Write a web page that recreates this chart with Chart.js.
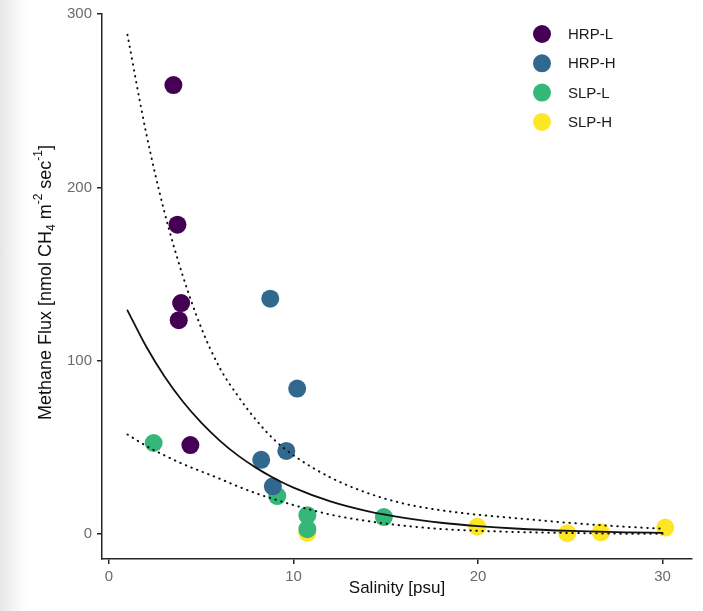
<!DOCTYPE html>
<html>
<head>
<meta charset="utf-8">
<script src="https://cdn.jsdelivr.net/npm/chart.js@4.4.1/dist/chart.umd.min.js"></script>
<style>
  html, body { margin: 0; padding: 0; }
  body { background: linear-gradient(to right, #e6e6e6 0px, #f5f5f5 14px, #ffffff 28px); }
  #wrap { width: 703px; height: 611px; }
</style>
</head>
<body>
<div id="wrap"><canvas id="plot" width="703" height="611"></canvas></div>
<script>
const groups = ["HRP-L", "HRP-H", "SLP-L", "SLP-H"];
const groupColors = ["#440154", "#31688E", "#35B779", "#FDE725"];

// points (salinity psu, flux nmol CH4 m-2 s-1)
const hrpLSalinity = [3.49, 3.71, 3.91, 3.78, 4.41];
const hrpLFlux = [259, 178.5, 133.3, 123.4, 51.4];
const hrpHSalinity = [8.74, 10.2, 9.61, 8.25, 8.88];
const hrpHFlux = [135.8, 84, 48, 42.9, 27.6];
const slpLSalinity = [2.42, 9.12, 10.75, 10.75, 14.9];
const slpLFlux = [52.6, 22, 11, 2.9, 9.9];
const slpHSalinity = [10.75, 19.96, 24.84, 26.66, 30.15];
const slpHFlux = [0.7, 4.3, 0.6, 1.1, 3.8];

// fitted curve + dotted band
const fitSalinity = [1, 2, 3, 4, 5, 6, 7, 8, 9, 10, 12, 14, 16, 18, 20, 22, 25, 28, 30];
const fitFlux = [129.1, 108.5, 91.1, 76.5, 64.3, 54.0, 45.3, 38.1, 32.0, 26.9, 18.9, 13.3, 9.4, 6.6, 4.7, 3.3, 1.9, 1.1, 0.8];
const upperFlux = [288, 232, 186, 149, 119, 96, 79.5, 65.5, 54, 45.5, 32.7, 23.8, 17.6, 13.8, 11.2, 9.3, 6.5, 4.3, 3.2];
const lowerFlux = [57.5, 51, 45.5, 40.5, 36.2, 32, 27.5, 23.5, 20, 16.8, 11.3, 7.6, 4.9, 3.0, 2.0, 1.3, 0.7, 0.3, 0.2];

const xTicks = [0, 10, 20, 30];
const yTicks = [0, 100, 200, 300];

const fontFamily = "'Liberation Sans', Arial, sans-serif";

const toPoints = (xs, ys) => xs.map((x, i) => ({ x: x, y: ys[i] }));

const pointSet = (label, xs, ys, color, order) => ({
  label: label,
  data: toPoints(xs, ys),
  backgroundColor: color,
  borderColor: color,
  borderWidth: 0,
  pointRadius: 9,
  pointHoverRadius: 9,
  showLine: false,
  order: order,
});

const lineSet = (label, ys, dash) => ({
  label: label,
  data: toPoints(fitSalinity, ys),
  borderColor: "#111111",
  backgroundColor: "#111111",
  borderWidth: dash ? 2 : 1.8,
  borderDash: dash || [],
  borderCapStyle: "round",
  pointRadius: 0,
  showLine: true,
  cubicInterpolationMode: "monotone",
  order: 0,
});

// legend inside the panel, top right
const insideLegend = {
  id: "insideLegend",
  afterDraw(chart) {
    const ctx = chart.ctx;
    ctx.save();
    groups.forEach((g, i) => {
      const y = 34 + i * 29.3;
      ctx.beginPath();
      ctx.arc(542, y, 9, 0, Math.PI * 2);
      ctx.fillStyle = groupColors[i];
      ctx.fill();
      ctx.fillStyle = "#1a1a1a";
      ctx.font = "15px " + fontFamily;
      ctx.textBaseline = "middle";
      ctx.fillText(g, 568, y + 1);
    });
    ctx.restore();
  },
};

// y title with subscript / superscripts
const yTitle = {
  id: "yTitle",
  afterDraw(chart) {
    const ctx = chart.ctx;
    const area = chart.chartArea;
    const parts = [
      ["Methane Flux [nmol CH", 0],
      ["4", -1],
      [" m", 0],
      ["-2", 1],
      [" sec", 0],
      ["-1", 1],
      ["]", 0],
    ];
    const big = "18px " + fontFamily;
    const small = "12px " + fontFamily;
    ctx.save();
    let total = 0;
    parts.forEach(([t, s]) => {
      ctx.font = s ? small : big;
      total += ctx.measureText(t).width;
    });
    ctx.translate(46, (area.top + area.bottom) / 2 - 4);
    ctx.rotate(-Math.PI / 2);
    ctx.fillStyle = "#111111";
    ctx.textBaseline = "middle";
    let x = -total / 2;
    parts.forEach(([t, s]) => {
      ctx.font = s ? small : big;
      const dy = s === 1 ? -7 : s === -1 ? 6 : 0;
      ctx.fillText(t, x, dy);
      x += ctx.measureText(t).width;
    });
    ctx.restore();
  },
};

const axisColor = "#262626";
const tickFont = { size: 15, family: fontFamily };

new Chart(document.getElementById("plot"), {
  type: "scatter",
  data: {
    datasets: [
      lineSet("Fit", fitFlux, null),
      lineSet("Upper", upperFlux, [0.5, 5.5]),
      lineSet("Lower", lowerFlux, [0.5, 5.5]),
      pointSet(groups[0], hrpLSalinity, hrpLFlux, groupColors[0], 1),
      pointSet(groups[1], hrpHSalinity, hrpHFlux, groupColors[1], 2),
      pointSet(groups[2], slpLSalinity, slpLFlux, groupColors[2], 3),
      pointSet(groups[3], slpHSalinity, slpHFlux, groupColors[3], 4),
    ],
  },
  options: {
    responsive: false,
    animation: false,
    layout: { padding: { top: 9, right: 11, left: 0, bottom: 0 } },
    plugins: {
      legend: { display: false },
      tooltip: { enabled: false },
    },
    scales: {
      x: {
        type: "linear",
        min: -0.38,
        max: 31.6,
        afterBuildTicks: (s) => { s.ticks = xTicks.map((v) => ({ value: v })); },
        afterFit: (s) => { s.height = 52; },
        ticks: { color: "#6a6a6a", font: tickFont, padding: 4 },
        grid: { drawOnChartArea: false, drawTicks: true, tickLength: 5, color: axisColor, lineWidth: 1.5 },
        border: { display: true, color: axisColor, width: 1.5 },
        title: {
          display: true,
          text: "Salinity [psu]",
          color: "#111111",
          font: { size: 17, family: fontFamily },
          padding: { top: 0, bottom: 12 },
        },
      },
      y: {
        type: "linear",
        min: -14.3,
        max: 300,
        afterBuildTicks: (s) => { s.ticks = yTicks.map((v) => ({ value: v })); },
        afterFit: (s) => { s.width = 102; },
        ticks: { color: "#6a6a6a", font: tickFont, padding: 5 },
        grid: { drawOnChartArea: false, drawTicks: true, tickLength: 5, color: axisColor, lineWidth: 1.5 },
        border: { display: true, color: axisColor, width: 1.5 },
        title: { display: false },
      },
    },
  },
  plugins: [insideLegend, yTitle],
});
</script>
</body>
</html>
